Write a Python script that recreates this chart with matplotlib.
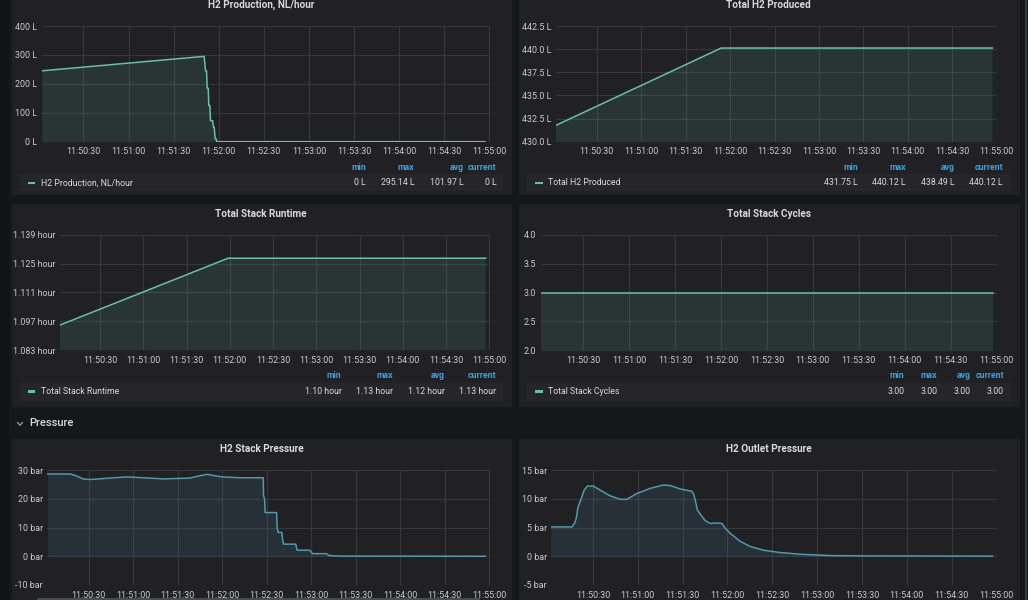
import matplotlib
matplotlib.use('Agg')
import matplotlib.pyplot as plt
from matplotlib.patches import Rectangle
from matplotlib.lines import Line2D

plt.rcParams['font.family'] = ['Roboto', 'DejaVu Sans']

W, H = 1028, 600

PAGE = '#161719'
PANEL = '#212124'
LEGEND_BG = '#262629'
GRID = '#37383b'
TEXT = '#d8d9da'
TICK = '#c8cacf'
BLUE = '#33a2e5'
MINT = '#63c2a7'
TEAL = '#4d9bb0'

# time axis: seconds after 11:50:00
time_ticks = [30, 60, 90, 120, 150, 180, 210, 240, 270, 300]
time_labels = ['11:50:30', '11:51:00', '11:51:30', '11:52:00', '11:52:30',
               '11:53:00', '11:53:30', '11:54:00', '11:54:30', '11:55:00']
XMIN, XMAX = 2.2, 300.5

# H2 Production, NL/hour
prod_t = [2.3, 110.3, 111.2, 111.9, 112.3, 113.0, 113.4, 114.1, 114.5, 115.9,
          116.5, 117.0, 117.6, 118.3, 118.7, 297.3]
prod_v = [245, 295, 245, 245, 185, 185, 125, 125, 73, 73, 50, 50, 10, 10, 0, 0]
prod_stats = ['0 L', '295.14 L', '101.97 L', '0 L']

# Total H2 Produced
total_t = [2.4, 114.0, 297.2]
total_v = [431.77, 440.12, 440.12]
total_stats = ['431.75 L', '440.12 L', '438.49 L', '440.12 L']

# Total Stack Runtime
runtime_t = [1.7, 118.8, 297.5]
runtime_v = [1.0951, 1.1276, 1.1276]
runtime_stats = ['1.10 hour', '1.13 hour', '1.12 hour', '1.13 hour']

# Total Stack Cycles
cycles_t = [2.2, 297.4]
cycles_v = [3.0, 3.0]
cycles_stats = ['3.00', '3.00', '3.00', '3.00']

# H2 Stack Pressure
stack_t = [2.4, 17.7, 21.7, 26.2, 31.1, 44.6, 55.8, 67.0, 80.4, 98.4, 105.1,
           110.0, 115.2, 119.7, 132.0, 147.7, 147.9, 148.6, 149.0, 156.7, 157.1,
           157.8, 160.2, 160.8, 161.5, 169.6, 170.5, 179.0, 181.0, 190.3, 192.0,
           199.0, 297.3]
stack_v = [28.6, 28.6, 28.0, 26.9, 26.7, 27.2, 27.6, 27.3, 26.9, 27.2, 28.0,
           28.5, 28.0, 27.6, 27.3, 27.3, 21.0, 20.0, 15.2, 15.2, 9.7,
           8.3, 8.3, 5.6, 4.2, 4.2, 2.1, 2.1, 0.9, 0.9, 0.25,
           0.05, 0.0]

# H2 Outlet Pressure
outlet_t = [1.9, 16.0, 17.7, 18.9, 20.0, 21.5, 22.6, 24.2, 26.4, 30.4, 34.9,
            41.6, 48.3, 52.7, 59.4, 68.3, 77.3, 81.7, 88.4, 96.2, 97.3, 98.4,
            100.0, 102.2, 105.1, 108.5, 112.9, 116.3, 118.5, 121.8, 128.5,
            135.2, 144.1, 155.3, 168.7, 188.7, 211.0, 297.3]
outlet_v = [5.1, 5.1, 5.7, 6.6, 8.5, 9.5, 10.3, 11.5, 12.2, 12.2, 11.5,
            10.5, 9.9, 9.9, 10.9, 11.8, 12.4, 12.3, 11.7, 11.3, 10.9, 9.8,
            8.0, 7.2, 6.2, 5.7, 5.8, 5.7, 4.9, 4.0, 2.6,
            1.7, 1.05, 0.64, 0.35, 0.12, 0.06, 0.02]

stat_names = ['min', 'max', 'avg', 'current']


def fx(x):
    return x / W


def fy(y):
    return 1 - y / H


def box(fig, x0, y0, x1, y1, color, z=-2):
    fig.patches.append(Rectangle((fx(x0), fy(y1)), fx(x1 - x0), (y1 - y0) / H,
                                 transform=fig.transFigure, facecolor=color,
                                 edgecolor='none', zorder=z))


def text(fig, x, y, s, **kw):
    fig.text(fx(x), fy(y), s, va='center', **kw)


def graph(fig, rect, t, v, color, yticks, ylabels, title, title_xy):
    x0, y0, x1, y1 = rect
    ax = fig.add_axes([fx(x0), fy(y1), fx(x1 - x0), (y1 - y0) / H])
    ax.set_facecolor(PANEL)
    ax.fill_between(t, v, 0, color=color, alpha=0.13, lw=0)
    ax.plot(t, v, color=color, lw=1.1)
    ax.set_xlim(XMIN, XMAX)
    ax.set_ylim(yticks[0], yticks[-1])
    ax.set_xticks(time_ticks)
    ax.set_xticklabels(time_labels)
    ax.set_yticks(yticks)
    ax.set_yticklabels(ylabels)
    ax.grid(True, color=GRID, lw=0.8)
    ax.set_axisbelow(True)
    ax.tick_params(length=0, colors=TICK, labelsize=6.4)
    ax.tick_params(axis='x', pad=4.0)
    ax.tick_params(axis='y', pad=3.2)
    for s in ax.spines.values():
        s.set_visible(False)
    text(fig, title_xy[0], title_xy[1], title, ha='center', color=TEXT,
         fontsize=7.2, fontweight='bold')
    return ax


def legend(fig, bx, name, color, cols, stats, head_y, row_y):
    box(fig, bx[0], bx[1], bx[2], bx[3], LEGEND_BG, z=-1)
    box(fig, bx[0] + 7.7, row_y - 1.3, bx[0] + 15.3, row_y + 1.3, color, z=1)
    text(fig, bx[0] + 20.7, row_y, name, color=TEXT, fontsize=6.3)
    for xr, nm, st in zip(cols, stat_names, stats):
        text(fig, xr, head_y, nm, ha='right', color=BLUE, fontsize=6.3,
             fontweight='bold')
        text(fig, xr, row_y, st, ha='right', color=TEXT, fontsize=6.3)


fig = plt.figure(figsize=(W / 100, H / 100), dpi=100, facecolor=PAGE)

# page decoration
box(fig, 0, 0, 9, H, '#111214', z=-3)
box(fig, 1025.3, 0, 1026.5, H, '#3a3b3f', z=-3)

# panel backgrounds
panels = [(11.7, -5, 512.3, 195), (519, -5, 1019.7, 195),
          (11.7, 204, 512.3, 406.7), (519, 204, 1019.7, 406.7),
          (11.7, 439.3, 512.3, 610), (519, 439.3, 1019.7, 610)]
for p in panels:
    box(fig, *p, PANEL)

graph(fig, (41.7, 26, 490, 141.7), prod_t, prod_v, MINT,
      [0, 100, 200, 300, 400], ['0 L', '100 L', '200 L', '300 L', '400 L'],
      'H2 Production, NL/hour', (261.5, 4.9))
legend(fig, (20, 174.3, 503, 191), 'H2 Production, NL/hour', MINT,
       [366, 414.3, 463.3, 496.3], prod_stats, 167.3, 183)

graph(fig, (555.7, 26, 997.3, 141.7), total_t, total_v, MINT,
      [430.0, 432.5, 435.0, 437.5, 440.0, 442.5],
      ['430.0 L', '432.5 L', '435.0 L', '437.5 L', '440.0 L', '442.5 L'],
      'Total H2 Produced', (768.7, 4.9))
legend(fig, (527.3, 174.3, 1010.7, 191), 'Total H2 Produced', MINT,
       [858, 906, 954.7, 1003], total_stats, 167.3, 183)

graph(fig, (60, 234.7, 490, 350.3), runtime_t, runtime_v, MINT,
      [1.083, 1.097, 1.111, 1.125, 1.139],
      ['1.083 hour', '1.097 hour', '1.111 hour', '1.125 hour', '1.139 hour'],
      'Total Stack Runtime', (261.3, 213.7))
legend(fig, (20, 382.7, 503, 400.7), 'Total Stack Runtime', MINT,
       [341.7, 393.3, 445, 496], runtime_stats, 376, 391.7)

graph(fig, (540.7, 234.7, 997.3, 350.3), cycles_t, cycles_v, MINT,
      [2.0, 2.5, 3.0, 3.5, 4.0], ['2.0', '2.5', '3.0', '3.5', '4.0'],
      'Total Stack Cycles', (768.8, 213.7))
legend(fig, (527.3, 382.7, 1010.7, 400.7), 'Total Stack Cycles', MINT,
       [904.7, 937.3, 970.7, 1004], cycles_stats, 376, 391.7)

# row header
fig.add_artist(Line2D([fx(17.6), fx(20), fx(22.4)], [fy(422.6), fy(425.2), fy(422.6)],
                      transform=fig.transFigure, color='#9fa1a6', lw=0.9))
text(fig, 29, 423, 'Pressure', color=TEXT, fontsize=8.0, fontweight='medium')

graph(fig, (47.3, 470, 490, 585), stack_t, stack_v, TEAL,
      [-10, 0, 10, 20, 30], ['-10 bar', '0 bar', '10 bar', '20 bar', '30 bar'],
      'H2 Stack Pressure', (261.7, 448.7))

graph(fig, (551.3, 470, 997.3, 585), outlet_t, outlet_v, TEAL,
      [-5, 0, 5, 10, 15], ['-5 bar', '0 bar', '5 bar', '10 bar', '15 bar'],
      'H2 Outlet Pressure', (768.7, 448.7))

# legend scrollbar peeking at the bottom edge
box(fig, 37, 597.7, 480, 600, '#4a4b4f', z=2)

fig.savefig('out.png', dpi=100, facecolor=PAGE)
